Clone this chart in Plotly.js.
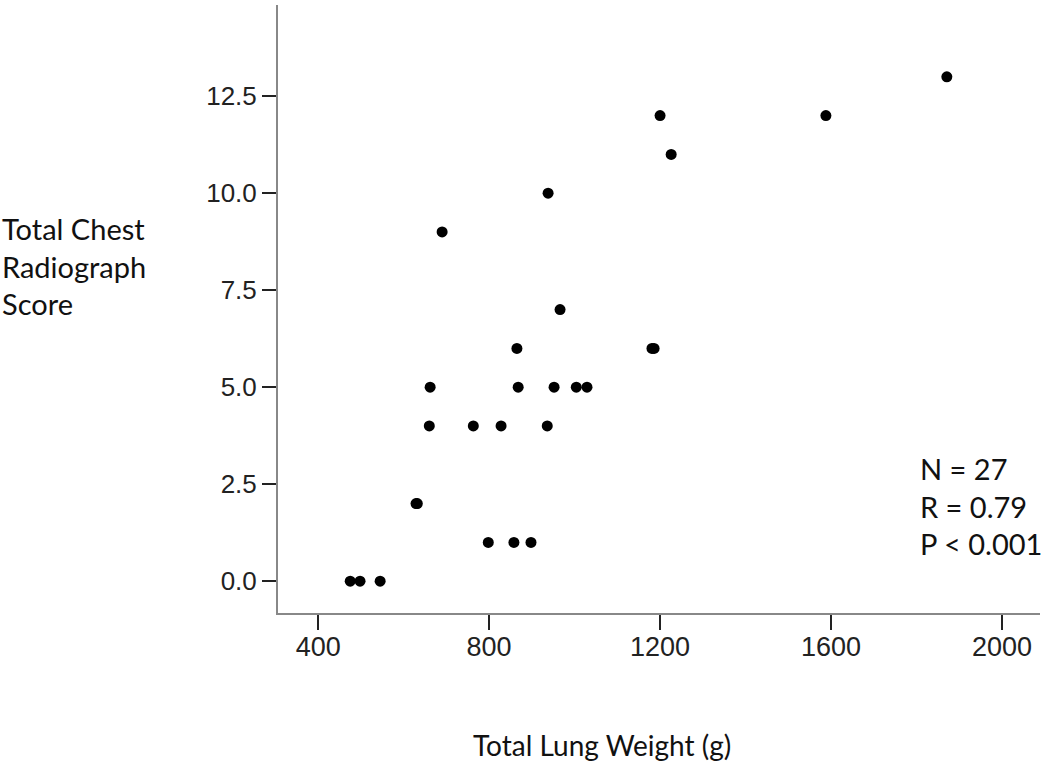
<!DOCTYPE html>
<html>
<head>
<meta charset="utf-8">
<script src="https://cdn.plot.ly/plotly-3.0.1.min.js"></script>
<style>
  html, body { margin: 0; padding: 0; background: #fff; }
  #chart { width: 1050px; height: 762px; }
</style>
</head>
<body>
<div id="chart"></div>
<script>
// lung weight (g) vs chest radiograph score
var lungWeight = [475, 498, 545, 629, 632, 798, 858, 898, 660, 763, 828, 936,
                  662, 868, 952, 1004, 1029, 865, 1181, 1186, 966, 690, 938,
                  1200, 1226, 1588, 1871];
var cxrScore   = [0, 0, 0, 2, 2, 1, 1, 1, 4, 4, 4, 4,
                  5, 5, 5, 5, 5, 6, 6, 6, 7, 9, 10,
                  12, 11, 12, 13];
var xTicks = [400, 800, 1200, 1600, 2000];
var yTicks = [0, 2.5, 5, 7.5, 10, 12.5];
var yTickText = ["0.0", "2.5", "5.0", "7.5", "10.0", "12.5"];
var statLines = ["N = 27", "R = 0.79", "P < 0.001"];

var textFont = "Lato, 'Open Sans', sans-serif";

var data = [{
  x: lungWeight,
  y: cxrScore,
  type: "scatter",
  mode: "markers",
  marker: { color: "#000", size: 11 },
  hoverinfo: "x+y"
}];

var layout = {
  width: 1050,
  height: 762,
  margin: { l: 278, r: 10, t: 5, b: 149 },
  paper_bgcolor: "#fff",
  plot_bgcolor: "#fff",
  showlegend: false,
  xaxis: {
    range: [306, 2089],
    tickvals: xTicks,
    ticks: "outside",
    ticklen: 15,
    tickwidth: 2,
    tickcolor: "#222",
    ticklabelstandoff: -6,
    showline: true,
    linecolor: "#888",
    linewidth: 2,
    showgrid: false,
    zeroline: false,
    tickfont: { family: "'Liberation Sans Narrow', 'Liberation Sans', Arial, sans-serif", size: 27, color: "#222" }
  },
  yaxis: {
    range: [-0.82, 14.85],
    tickvals: yTicks,
    ticktext: yTickText,
    ticks: "outside",
    ticklen: 14,
    tickwidth: 2,
    tickcolor: "#222",
    showline: true,
    linecolor: "#888",
    linewidth: 2,
    showgrid: false,
    zeroline: false,
    tickfont: { family: "'Liberation Sans', Arial, sans-serif", size: 26, color: "#222" }
  },
  annotations: [
    {
      text: "Total Chest<br>Radiograph<br>Score",
      xref: "paper", yref: "paper",
      x: -278 / 762, y: (613 - 266) / 608,
      xanchor: "left", yanchor: "middle", align: "left",
      showarrow: false,
      font: { family: textFont, size: 29, color: "#111" }
    },
    {
      text: "Total Lung Weight (g)",
      xref: "paper", yref: "paper",
      x: (602 - 278) / 762, y: -(745 - 613) / 608,
      xanchor: "center", yanchor: "middle",
      showarrow: false,
      font: { family: textFont, size: 28, color: "#111" }
    },
    {
      text: statLines.join("<br>"),
      xref: "paper", yref: "paper",
      x: (918 - 278) / 762, y: (613 - 506) / 608,
      xanchor: "left", yanchor: "middle", align: "left",
      showarrow: false,
      font: { family: textFont, size: 29, color: "#111" }
    }
  ]
};

Plotly.newPlot("chart", data, layout, { displayModeBar: false, staticPlot: true });
</script>
</body>
</html>
